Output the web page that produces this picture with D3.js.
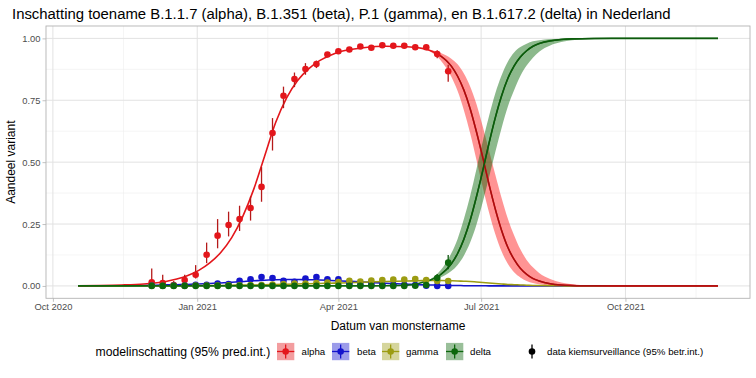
<!DOCTYPE html>
<html><head><meta charset="utf-8">
<script src="https://cdn.jsdelivr.net/npm/d3@7"></script>
<style>
body{margin:0;background:#fff}
svg{display:block}
text{font-family:"Liberation Sans",Arial,Helvetica,sans-serif}
</style>
</head><body>
<svg id="c" width="756" height="378"></svg>
<script>
// ---------- data ----------
const titleText = "Inschatting toename B.1.1.7 (alpha), B.1.351 (beta), P.1 (gamma), en B.1.617.2 (delta) in Nederland";
const xTitle = "Datum van monstername";
const yTitle = "Aandeel variant";
const variants = ["alpha","beta","gamma","delta"];
const legendTitle = "modelinschatting (95% pred.int.)";
const legendData = "data kiemsurveillance (95% betr.int.)";

const xTickDates = ["2020-10-01","2021-01-01","2021-04-01","2021-07-01","2021-10-01"];
const xTickLabels = ["Oct 2020","Jan 2021","Apr 2021","Jul 2021","Oct 2021"];
const xMinorDates = ["2020-11-15","2021-02-15","2021-05-16","2021-08-16","2021-11-15"];
const yTicks = [0,0.25,0.5,0.75,1];
const yTickLabels = ["0.00","0.25","0.50","0.75","1.00"];
const yMinor = [0.125,0.375,0.625,0.875];

// model curves
const curveDates = ["2020-10-17","2020-10-31","2020-11-14","2020-11-28","2020-12-05","2020-12-12","2020-12-19","2020-12-26",
 "2021-01-02","2021-01-09","2021-01-16","2021-01-23","2021-01-30","2021-02-06","2021-02-13","2021-02-20","2021-02-27",
 "2021-03-06","2021-03-13","2021-03-20","2021-03-27","2021-04-03","2021-04-17","2021-05-01","2021-05-15","2021-05-22",
 "2021-05-29","2021-06-05","2021-06-12","2021-06-16","2021-06-20","2021-06-24","2021-06-28","2021-07-02","2021-07-06",
 "2021-07-10","2021-07-14","2021-07-18","2021-07-22","2021-07-26","2021-07-30","2021-08-03","2021-08-07","2021-08-14",
 "2021-08-21","2021-08-28","2021-09-11","2021-10-02","2021-10-30","2021-11-29"];
const alphaFit = [0.001,0.002,0.004,0.008,0.012,0.018,0.028,0.042,0.063,0.093,0.135,0.195,0.28,0.39,0.525,0.66,0.76,
 0.83,0.877,0.91,0.932,0.948,0.962,0.968,0.966,0.962,0.952,0.93,0.888,0.847,0.791,0.716,0.623,0.52,0.411,0.311,0.225,
 0.156,0.107,0.071,0.047,0.03,0.02,0.009,0.004,0.002,0.0004,0,0,0];
const betaFit = [0,0,0.001,0.002,0.003,0.004,0.005,0.006,0.008,0.01,0.012,0.015,0.018,0.021,0.023,0.025,0.026,
 0.026,0.025,0.024,0.022,0.02,0.016,0.011,0.007,0.005,0.004,0.003,0.002,0.002,0.001,0.001,0.001,0.001,0,0,0,
 0,0,0,0,0,0,0,0,0,0,0,0,0];
const gammaFit = [0,0,0,0.001,0.001,0.001,0.001,0.001,0.002,0.002,0.002,0.003,0.004,0.004,0.005,0.006,0.007,
 0.008,0.009,0.01,0.011,0.012,0.015,0.018,0.02,0.021,0.022,0.022,0.021,0.02,0.019,0.018,0.016,0.014,0.012,0.01,0.008,
 0.006,0.005,0.004,0.003,0.002,0.0015,0.001,0.0005,0,0,0,0,0];
const deltaFit = [0,0,0,0,0,0,0,0,0,0,0,0,0,0,0,0,0,
 0,0,0,0,0,0,0.001,0.003,0.01,0.0225,0.045,0.089,0.131,0.189,0.265,0.36,0.465,0.576,0.679,0.7675,
 0.838,0.8885,0.925,0.95,0.968,0.979,0.99,0.9954,0.998,0.9996,1,1,1];

// prediction intervals (projection period)
const bandDates = ["2021-05-29","2021-06-05","2021-06-12","2021-06-16","2021-06-20","2021-06-24","2021-06-28","2021-07-02",
 "2021-07-06","2021-07-10","2021-07-14","2021-07-18","2021-07-22","2021-07-26","2021-07-30","2021-08-03","2021-08-07",
 "2021-08-14","2021-08-21","2021-08-28","2021-09-11","2021-10-02","2021-10-30","2021-11-29"];
const alphaLo = [0.949,0.913,0.845,0.787,0.71,0.617,0.51,0.4,0.298,0.21,0.14,0.09,0.055,0.034,0.02,0.012,0.007,0.0025,0.001,0.0004,0,0,0,0];
const alphaHi = [0.954,0.942,0.918,0.895,0.858,0.806,0.735,0.645,0.548,0.45,0.356,0.272,0.205,0.148,0.105,0.075,0.052,0.028,0.014,0.007,0.0015,0,0,0];
const deltaLo = [0.021,0.034,0.06,0.085,0.122,0.175,0.247,0.338,0.438,0.54,0.637,0.724,0.79,0.848,0.89,0.922,0.946,0.971,0.985,0.992,0.998,1,1,1];
const deltaHi = [0.024,0.062,0.132,0.19,0.27,0.363,0.471,0.583,0.685,0.777,0.85,0.906,0.943,0.965,0.978,0.988,0.992,0.997,0.999,0.9995,1,1,1,1];

// weekly surveillance data
const obsDates = ["2020-12-03","2020-12-10","2020-12-17","2020-12-24","2020-12-31","2021-01-07","2021-01-14","2021-01-21",
 "2021-01-28","2021-02-04","2021-02-11","2021-02-18","2021-02-25","2021-03-04","2021-03-11","2021-03-18","2021-03-25",
 "2021-04-01","2021-04-08","2021-04-15","2021-04-22","2021-04-29","2021-05-06","2021-05-13","2021-05-20","2021-05-27",
 "2021-06-03","2021-06-10"];
const alphaObs = [0.015,0.012,0.004,0.024,0.045,0.126,0.203,0.246,0.27,0.315,0.40,0.618,0.768,0.836,0.876,0.896,0.935,
 0.948,0.955,0.967,0.962,0.972,0.970,0.970,0.964,0.964,0.937,0.867];
const alphaObsLo = [0.002,0.002,0.0,0.01,0.03,0.092,0.152,0.2,0.222,0.264,0.34,0.547,0.718,0.803,0.853,0.88,0.925,
 0.94,0.948,0.961,0.955,0.966,0.964,0.963,0.956,0.955,0.92,0.825];
const alphaObsHi = [0.07,0.045,0.02,0.045,0.084,0.175,0.27,0.30,0.324,0.361,0.48,0.678,0.805,0.862,0.9,0.91,0.945,
 0.956,0.962,0.973,0.968,0.977,0.976,0.976,0.971,0.972,0.952,0.893];
const betaObs = [0.002,0.001,0.002,0.002,0.005,0.005,0.01,0.008,0.021,0.027,0.036,0.032,0.021,0.017,0.03,0.036,0.027,
 0.027,0.01,0.008,0.008,0.006,0.006,0.005,0.004,0.001,0.0,0.0];
const gammaObs = [0.001,0.001,0.001,0.001,0.002,0.002,0.002,0.003,0.003,0.004,0.004,0.006,0.008,0.01,0.01,0.012,0.014,
 0.016,0.021,0.018,0.022,0.024,0.026,0.026,0.028,0.024,0.02,0.02];
const deltaObs = [0,0,0,0,0,0,0,0,0,0,0,0,0,0,0,0,0,0,0,0,0,0,0,0,0.001,0.004,0.032,0.094];
const deltaObsLo = [0,0,0,0,0,0,0,0,0,0,0,0,0,0,0,0,0,0,0,0,0,0,0,0,0,0.001,0.02,0.067];
const deltaObsHi = [0,0,0,0,0,0,0,0,0,0,0,0,0,0,0,0,0,0,0,0,0,0,0,0,0.004,0.01,0.048,0.125];

// ---------- styling ----------
const colors = {alpha:"#e3161b", beta:"#1414cc", gamma:"#9c9c12", delta:"#0d670d"};
const projColors = {alpha:"#a51010", delta:"#0d5a0d"};
const barColors = {alpha:"#b51a1a", beta:"#1414aa", gamma:"#84841a", delta:"#0d560d"};
const bandFill = {alpha:"#ff0000", delta:"#006400"};

const svg = d3.select("#c");
const P = {l:46, r:750, t:26, b:298.3};
const parse = d3.utcParse("%Y-%m-%d");
const cd = curveDates.map(parse), od = obsDates.map(parse), bd = bandDates.map(parse);
const d0 = cd[0], d1 = cd[cd.length-1], span = d1 - d0;
const x = d3.scaleUtc().domain([new Date(+d0 - 0.05*span), new Date(+d1 + 0.05*span)]).range([P.l, P.r]);
const y = d3.scaleLinear().domain([-0.05, 1.05]).range([P.b, P.t]);

// grid
const g = svg.append("g");
g.selectAll(".xm").data(xMinorDates.map(parse)).join("line")
  .attr("x1", d=>x(d)).attr("x2", d=>x(d)).attr("y1", P.t).attr("y2", P.b)
  .attr("stroke", "#eeeeee").attr("stroke-width", 0.6);
g.selectAll(".ym").data(yMinor).join("line")
  .attr("x1", P.l).attr("x2", P.r).attr("y1", d=>y(d)).attr("y2", d=>y(d))
  .attr("stroke", "#eeeeee").attr("stroke-width", 0.6);
g.selectAll(".xM").data(xTickDates.map(parse)).join("line")
  .attr("x1", d=>x(d)).attr("x2", d=>x(d)).attr("y1", P.t).attr("y2", P.b)
  .attr("stroke", "#e2e2e2").attr("stroke-width", 1);
g.selectAll(".yM").data(yTicks).join("line")
  .attr("x1", P.l).attr("x2", P.r).attr("y1", d=>y(d)).attr("y2", d=>y(d))
  .attr("stroke", "#e2e2e2").attr("stroke-width", 1);

// axes
const xAxis = d3.axisBottom(x).tickValues(xTickDates.map(parse)).tickFormat((d,i)=>xTickLabels[i]).tickSize(3.5).tickPadding(2);
const yAxis = d3.axisLeft(y).tickValues(yTicks).tickFormat((d,i)=>yTickLabels[i]).tickSize(3.5).tickPadding(2);
const gx = svg.append("g").attr("transform", `translate(0,${P.b})`).call(xAxis);
const gy = svg.append("g").attr("transform", `translate(${P.l},0)`).call(yAxis);
[gx, gy].forEach(a => {
  a.select(".domain").remove();
  a.selectAll(".tick line").attr("stroke", "#b3b3b3").attr("stroke-width", 0.8);
  a.selectAll(".tick text").attr("fill", "#4d4d4d").style("font-size", "9.4px")
   .style("font-family", '"Liberation Sans",Arial,sans-serif');
});

// bands
const area = (lo, hi) => d3.area().x((d,i)=>x(bd[i])).y0((d,i)=>y(lo[i])).y1((d,i)=>y(hi[i])).curve(d3.curveMonotoneX);
svg.append("path").attr("d", area(alphaLo, alphaHi)(bandDates))
  .attr("fill", bandFill.alpha).attr("fill-opacity", 0.42);
svg.append("path").attr("d", area(deltaLo, deltaHi)(bandDates))
  .attr("fill", bandFill.delta).attr("fill-opacity", 0.45);

// lines
const line = vals => d3.line().x((d,i)=>x(cd[i])).y((d,i)=>y(vals[i])).curve(d3.curveMonotoneX)(vals);
const fits = {alpha:alphaFit, beta:betaFit, gamma:gammaFit, delta:deltaFit};
["beta","gamma","alpha","delta"].forEach(v => {
  svg.append("path").attr("d", line(fits[v])).attr("fill","none")
    .attr("stroke", colors[v]).attr("stroke-width", 1.6);
});
// projection segments (after last data)
const projStart = cd.findIndex(d => +d >= +parse("2021-06-05"));
["alpha","delta"].forEach(v => {
  const vals = fits[v].slice(projStart), dd = cd.slice(projStart);
  const p = d3.line().x((d,i)=>x(dd[i])).y((d,i)=>y(vals[i])).curve(d3.curveMonotoneX)(vals);
  svg.append("path").attr("d", p).attr("fill","none").attr("stroke", projColors[v]).attr("stroke-width", 1.4);
});

// data points
const obs = {
  alpha:{v:alphaObs, lo:alphaObsLo, hi:alphaObsHi},
  beta:{v:betaObs}, gamma:{v:gammaObs},
  delta:{v:deltaObs, lo:deltaObsLo, hi:deltaObsHi}
};
variants.forEach(v => {
  const o = obs[v];
  const gg = svg.append("g");
  if (o.lo) {
    gg.selectAll("line").data(o.v).join("line")
      .attr("x1",(d,i)=>x(od[i])).attr("x2",(d,i)=>x(od[i]))
      .attr("y1",(d,i)=>y(o.lo[i])).attr("y2",(d,i)=>y(o.hi[i]))
      .attr("stroke", barColors[v]).attr("stroke-width", 1.3);
  }
  gg.selectAll("circle").data(o.v).join("circle")
    .attr("cx",(d,i)=>x(od[i])).attr("cy",d=>y(d)).attr("r",3.3)
    .attr("fill", colors[v]);
});

// panel border
svg.append("rect").attr("x",P.l).attr("y",P.t).attr("width",P.r-P.l).attr("height",P.b-P.t)
  .attr("fill","none").attr("stroke","#b3b3b3").attr("stroke-width",0.9);

// titles
svg.append("text").attr("x", 12).attr("y", 19).text(titleText)
  .style("font-size","14.9px").attr("fill","#000");
svg.append("text").attr("x", (P.l+P.r)/2).attr("y", 329.5).attr("text-anchor","middle")
  .text(xTitle).style("font-size","12px").attr("fill","#000");
svg.append("text").attr("transform", `translate(15,${(P.t+P.b)/2}) rotate(-90)`).attr("text-anchor","middle")
  .text(yTitle).style("font-size","12px").attr("fill","#000");

// legend
const LY = 351.5;
const lg = svg.append("g");
lg.append("text").attr("x", 95.5).attr("y", LY+4.2).text(legendTitle).style("font-size","12.2px");
const keyX = {alpha:277, beta:332, gamma:382, delta:446};
const labX = {alpha:301.5, beta:357, gamma:406, delta:470};
variants.forEach(v => {
  const k = keyX[v];
  lg.append("rect").attr("x",k).attr("y",LY-8.6).attr("width",17.3).attr("height",17.3)
    .attr("fill", colors[v]).attr("fill-opacity",0.42);
  lg.append("line").attr("x1",k).attr("x2",k+17.3).attr("y1",LY).attr("y2",LY)
    .attr("stroke",colors[v]).attr("stroke-width",1.3);
  lg.append("line").attr("x1",k+8.65).attr("x2",k+8.65).attr("y1",LY-7).attr("y2",LY+7)
    .attr("stroke",colors[v]).attr("stroke-width",1.3);
  lg.append("circle").attr("cx",k+8.65).attr("cy",LY).attr("r",3.3).attr("fill",colors[v]);
  lg.append("text").attr("x",labX[v]).attr("y",LY+3.4).text(v).style("font-size","9.7px");
});
lg.append("line").attr("x1",532).attr("x2",532).attr("y1",LY-7).attr("y2",LY+7)
  .attr("stroke","#000").attr("stroke-width",1.3);
lg.append("circle").attr("cx",532).attr("cy",LY).attr("r",3.3).attr("fill","#000");
lg.append("text").attr("x",547).attr("y",LY+3.4).text(legendData).style("font-size","9.7px");
</script>
</body></html>
